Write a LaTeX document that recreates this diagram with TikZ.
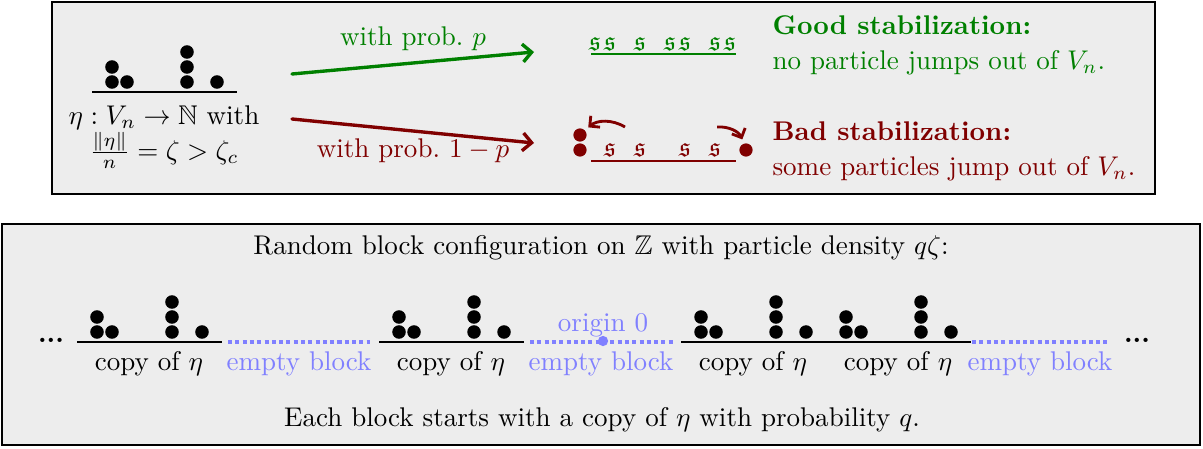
\documentclass[tikz,border=0pt]{standalone}
\usepackage{amsmath,amssymb}
\usepackage{tikz}
\usetikzlibrary{positioning, arrows.meta, calc}

\colorlet{goodcol}{green!50!black}
\colorlet{badcol}{red!50!black}
\colorlet{emptycol}{blue!50}

\begin{document}
\begin{tikzpicture}[
  x=0.013cm, y=-0.013cm,
  panel/.style={draw, line width=1.05pt, fill=black!7},
  groundline/.style={line width=1.05pt},
  emptyline/.style={emptycol, line width=1.2pt, dash pattern=on 1.5pt off 1.2pt},
  probarrow/.style={line width=1.25pt, line cap=round,
    -{Straight Barb[length=3.3pt, width=6.6pt]}},
  jumparrow/.style={line width=1.05pt, shorten >=1.5pt,
    -{Straight Barb[length=2.7pt, width=5.4pt]}},
  sleeper/.style={inner sep=0pt},
  particle/.style={circle, fill, inner sep=0pt, minimum size=4.9pt},
  eta/.pic={
    \draw[groundline] (-20,0) -- (125,0);
    \foreach \s/\h in {0/0, 0/1, 15/0, 75/0, 75/1, 75/2, 105/0}
      \fill (\s,-10-15*\h) circle (2.5pt);
  },
]
  \useasboundingbox (0,0) rectangle (1203,448);
  \draw[panel] (52,2) rectangle (1155,194);
  \draw[panel] (2,224) rectangle (1200,445);

  % initial configuration
  \pic at (112,92) {eta};
  \node[align=center, anchor=north, inner sep=0pt] (etatxt) at (164,105)
    {$\eta: V_n\to\mathbb{N}$ with\\ $\frac{\|\eta\|}{n}=\zeta>\zeta_c$};

  \coordinate (gstart) at (292,74);
  \coordinate (gend)   at (534,52);
  \coordinate (bstart) at (292,119);
  \coordinate (bend)   at (534,143);
  \draw[probarrow, goodcol] (gstart) -- node[above=0.5pt] (gprob) {with prob.\ $p$} (gend);
  \draw[probarrow, badcol] (bstart) -- node[below=-1pt] (bprob) {with prob.\ $1-p$} (bend);

  % good stabilization
  \draw[groundline, goodcol] (591,54) -- (736,54);
  \foreach \i in {0,1,3,5,6,8,9}
    \node[sleeper, goodcol] (g\i) at (595+15*\i,44) {$\mathfrak{s}$};
  \node[goodcol, anchor=west, align=left] (goodtxt) at (763,45)
    {\textbf{Good stabilization:}\\[1pt] no particle jumps out of $V_n$.};

  % bad stabilization
  \draw[groundline, badcol] (591,161) -- (736,161);
  \foreach \i in {1,3,6,8}
    \node[sleeper, badcol] (b\i) at (595+15*\i,150) {$\mathfrak{s}$};
  \node[particle, badcol] (outA) at (580,150) {};
  \node[particle, badcol] (outB) at (580,135) {};
  \node[particle, badcol] (outC) at (746,150) {};
  \coordinate (jumpL) at (625,127);
  \coordinate (jumpR) at (717,127);
  \draw[jumparrow, badcol] (jumpL) to[bend right=35] (outB);
  \draw[jumparrow, badcol] (jumpR) to[bend left=35] (outC);
  \node[badcol, anchor=west, align=left] (badtxt) at (763,151)
    {\textbf{Bad stabilization:}\\[1pt] some particles jump out of $V_n$.};

  % block configuration on Z
  \node (title) at (601,248) {Random block configuration on $\mathbb{Z}$ with particle density $q\zeta$:};
  \node (note) at (602,420) {Each block starts with a copy of $\eta$ with probability $q$.};

  \node (dotsL) at (51,340) {\textbf{...}};
  \node (dotsR) at (1137,340) {\textbf{...}};

  \pic at (97,342) {eta};
  \pic at (399,342) {eta};
  \pic at (701,342) {eta};
  \pic at (846,342) {eta};
  \draw[emptyline] (228,342) -- (370,342);
  \draw[emptyline] (530,342) -- (673,342);
  \draw[emptyline] (972,342) -- (1109,342);

  \coordinate (blkA) at (149,342);
  \coordinate (blkB) at (299,342);
  \coordinate (blkC) at (451,342);
  \coordinate (blkD) at (601,342);
  \coordinate (blkE) at (753,342);
  \coordinate (blkF) at (898,342);
  \coordinate (blkG) at (1040,342);
  \node[below=0pt of blkA] (lblA) {copy of $\eta$};
  \node[below=0pt of blkB, emptycol] (lblB) {empty block};
  \node[below=0pt of blkC] (lblC) {copy of $\eta$};
  \node[below=0pt of blkD, emptycol] (lblD) {empty block};
  \node[below=0pt of blkE] (lblE) {copy of $\eta$};
  \node[below=0pt of blkF] (lblF) {copy of $\eta$};
  \node[below=0pt of blkG, emptycol] (lblG) {empty block};

  \node[particle, emptycol, minimum size=3.8pt] (origin) at (603,341) {};
  \node[above=-4pt of origin, emptycol] (origintxt) {origin 0};
\end{tikzpicture}
\end{document}
